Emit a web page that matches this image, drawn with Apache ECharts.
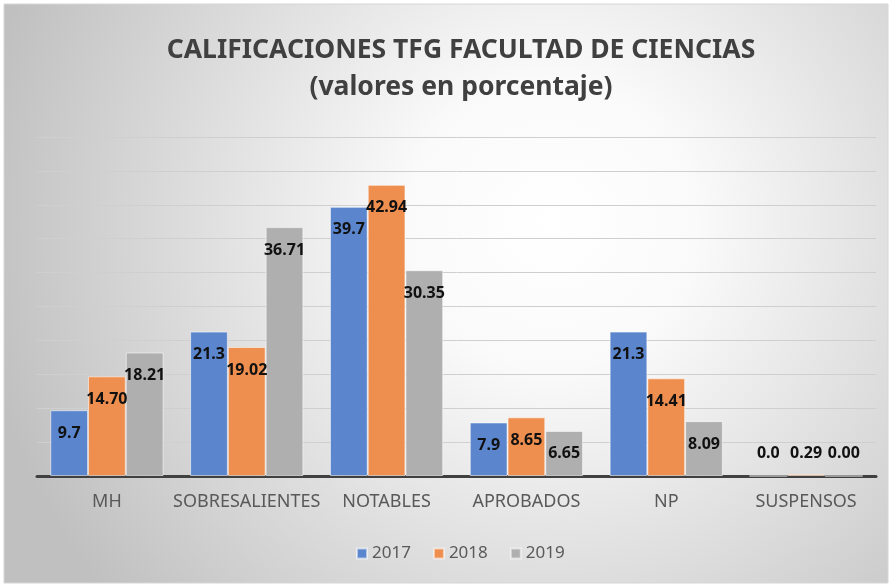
<!DOCTYPE html>
<html>
<head>
<meta charset="utf-8">
<script src="https://cdn.jsdelivr.net/npm/echarts@6/dist/echarts.min.js"></script>
<style>
  html, body { margin: 0; padding: 0; background: #fff; }
  #chart { width: 893px; height: 587px; }
</style>
</head>
<body>
<div id="chart"></div>
<script>
const categories = ['MH', 'SOBRESALIENTES', 'NOTABLES', 'APROBADOS', 'NP', 'SUSPENSOS'];
const years = ['2017', '2018', '2019'];
const v2017 = [9.7, 21.3, 39.7, 7.9, 21.3, 0.0];
const v2018 = [14.70, 19.02, 42.94, 8.65, 14.41, 0.29];
const v2019 = [18.21, 36.71, 30.35, 6.65, 8.09, 0.00];
const decimals = [1, 2, 2];
const colors = ['#5B86CD', '#EE8F4F', '#AFAFAF'];

let myEcharts = echarts.init(document.getElementById('chart'));

function makeSeries(name, values, digits, color) {
  return {
    name: name,
    type: 'bar',
    barGap: '0%',
    barCategoryGap: '19%',
    itemStyle: {
      color: color,
      borderColor: 'rgba(255,255,255,0.55)',
      borderWidth: 1
    },
    label: {
      show: true,
      position: 'insideTop',
      distance: 15,
      color: '#111',
      fontFamily: 'Noto Sans',
      fontWeight: 'bold',
      fontSize: 16,
      formatter: p => p.value.toFixed(digits)
    },
    // very short bars get their label just above the baseline
    data: values.map(v => v < 3 ? { value: v, label: { position: 'insideBottom', distance: 15 } } : v)
  };
}

let option = {
  graphic: [{
    type: 'rect',
    z: -10,
    shape: { x: 4, y: 4, width: 884, height: 579 },
    style: {
      fill: new echarts.graphic.RadialGradient(0.62, 0.38, 1.0, [
        { offset: 0, color: '#ffffff' },
        { offset: 0.25, color: '#fafafa' },
        { offset: 1, color: '#c0c0c0' }
      ]),
      stroke: '#d6d6d6',
      lineWidth: 1
    }
  }],
  title: {
    text: 'CALIFICACIONES TFG FACULTAD DE CIENCIAS\n(valores en porcentaje)',
    left: 456,
    top: 27,
    textAlign: 'center',
    textStyle: {
      fontFamily: 'Noto Sans',
      fontWeight: 'bold',
      fontSize: 26.5,
      lineHeight: 37,
      color: '#404040'
    }
  },
  legend: {
    data: years,
    left: 351,
    top: 540,
    itemWidth: 10,
    itemHeight: 10,
    itemGap: 22,
    icon: 'rect',
    textStyle: { fontFamily: 'Noto Sans', fontSize: 17, color: '#595959' }
  },
  grid: { left: 37, right: 17, top: 137, bottom: 111, containLabel: false },
  xAxis: {
    type: 'category',
    data: categories,
    axisLine: { lineStyle: { color: '#404040', width: 3 } },
    axisTick: { show: false },
    axisLabel: {
      interval: 0,
      margin: 17,
      fontFamily: 'Noto Sans',
      fontSize: 18,
      color: '#595959'
    }
  },
  yAxis: {
    type: 'value',
    min: 0,
    max: 50,
    interval: 5,
    axisLabel: { show: false },
    axisLine: { show: false },
    axisTick: { show: false },
    splitLine: { lineStyle: { color: '#cfcfcf', width: 1 } }
  },
  series: [
    makeSeries(years[0], v2017, decimals[0], colors[0]),
    makeSeries(years[1], v2018, decimals[1], colors[1]),
    makeSeries(years[2], v2019, decimals[2], colors[2])
  ]
};
myEcharts.setOption(option);
</script>
</body>
</html>
